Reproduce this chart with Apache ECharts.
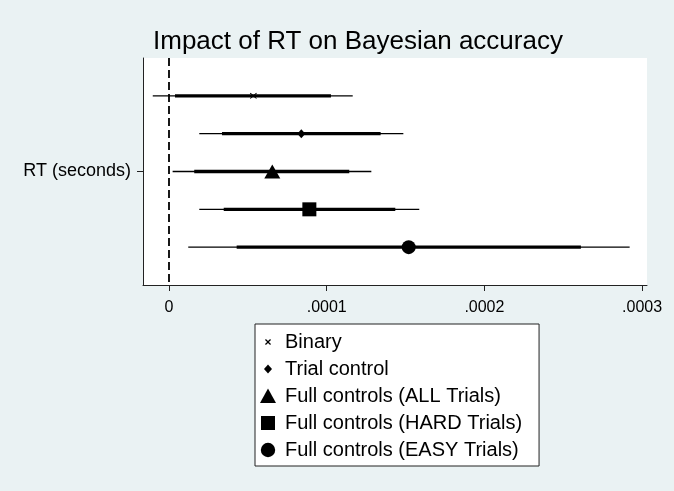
<!DOCTYPE html>
<html>
<head>
<meta charset="utf-8">
<script src="https://cdn.jsdelivr.net/npm/echarts@6/dist/echarts.min.js"></script>
<style>html,body{margin:0;padding:0;background:#EAF2F3}#c{width:674px;height:491px}</style>
</head>
<body>
<div id="c"></div>
<script>
const titleText = 'Impact of RT on Bayesian accuracy';
const yLabel = 'RT (seconds)';
const categories = ['Binary', 'Trial control', 'Full controls (ALL Trials)', 'Full controls (HARD Trials)', 'Full controls (EASY Trials)'];
const estimates = [0.0000535, 0.0000839, 0.0000655, 0.0000890, 0.0001520];
const outerLow  = [-0.0000103, 0.0000192, 0.0000023, 0.0000192, 0.0000122];
const outerHigh = [0.0001165, 0.0001486, 0.0001283, 0.0001587, 0.0002921];
const innerLow  = [0.0000038, 0.0000336, 0.0000160, 0.0000347, 0.0000429];
const innerHigh = [0.0001027, 0.0001342, 0.0001143, 0.0001435, 0.0002612];
const xTicks = [0, 0.0001, 0.0002, 0.0003];
const xTickLabels = ['0', '.0001', '.0002', '.0003'];

const FONT = '"Liberation Sans", Arial, Helvetica, sans-serif';
const markerSymbols = [
  'path://M0,1 L1,0 L5,4 L9,0 L10,1 L6,5 L10,9 L9,10 L5,6 L1,10 L0,9 L4,5 Z',
  'diamond', 'triangle', 'rect', 'circle'
];
const markerSizes = [[7, 6], [8, 9], [16, 14], [14, 14], [14, 14]];
const legendIcons = [
  'path://M0,0 M24,16 M9,5.9 L9.9,5 L12,7.1 L14.1,5 L15,5.9 L12.9,8 L15,10.1 L14.1,11 L12,8.9 L9.9,11 L9,10.1 L11.1,8 Z',
  'path://M0,0 M24,16 M12,3.6 L16,8 L12,12.4 L8,8 Z',
  'path://M0,0 M24,16 M12,0.5 L20,15 L4,15 Z',
  'path://M0,0 M24,16 M5,1 L19,1 L19,15 L5,15 Z',
  'path://M0,0 M24,16 M19.2,8 A7.2,7.2 0 1 1 4.8,8 A7.2,7.2 0 1 1 19.2,8 Z'
];

function ciSeries(lows, highs, width) {
  return {
    type: 'custom',
    silent: true,
    z: 3,
    data: categories.map((c, i) => [lows[i], highs[i], i + 1]),
    encode: { x: [0, 1], y: 2 },
    renderItem: (params, api) => {
      const p1 = api.coord([api.value(0), api.value(2)]);
      const p2 = api.coord([api.value(1), api.value(2)]);
      return { type: 'line', shape: { x1: p1[0], y1: p1[1], x2: p2[0], y2: p2[1] },
               style: { stroke: '#000', lineWidth: width } };
    }
  };
}

const series = [ciSeries(outerLow, outerHigh, 1.4), ciSeries(innerLow, innerHigh, 3.4)];
series[0].markLine = {
  silent: true, symbol: 'none', label: { show: false },
  lineStyle: { color: '#000', type: [8, 4], width: 1.8 },
  data: [{ xAxis: 0 }]
};
series[0].z = 2;
categories.forEach((c, i) => {
  series.push({
    type: 'scatter', name: c, z: 5,
    symbol: markerSymbols[i], symbolSize: markerSizes[i],
    itemStyle: { color: '#000', opacity: 1 },
    data: [[estimates[i], i + 1]]
  });
});

const chart = echarts.init(document.getElementById('c'), null, { renderer: 'canvas' });
chart.setOption({
  backgroundColor: '#EAF2F3',
  animation: false,
  title: {
    text: titleText, left: 153, top: 29, padding: 0,
    textStyle: { fontFamily: FONT, fontSize: 26, fontWeight: 'normal', color: '#000' }
  },
  grid: { left: 143, right: 27, top: 58, bottom: 206, show: true, backgroundColor: '#fff', borderWidth: 0 },
  xAxis: {
    type: 'value', min: -0.00001649, max: 0.00030311,
    splitLine: { show: false },
    axisLine: { onZero: false, lineStyle: { color: '#222', width: 1 } },
    axisTick: { customValues: xTicks, length: 6, lineStyle: { color: '#222' } },
    axisLabel: {
      customValues: xTicks, margin: 15, color: '#000', fontFamily: FONT, fontSize: 16,
      formatter: v => xTickLabels[xTicks.findIndex(t => Math.abs(t - v) < 1e-12)]
    }
  },
  yAxis: {
    type: 'value', min: 0, max: 6, inverse: true,
    splitLine: { show: false },
    axisLine: { show: true, onZero: false, lineStyle: { color: '#222', width: 1 } },
    axisTick: { customValues: [3], length: 6, lineStyle: { color: '#222' } },
    axisLabel: {
      customValues: [3], margin: 12, color: '#000', fontFamily: FONT, fontSize: 18,
      formatter: () => yLabel
    }
  },
  legend: {
    orient: 'vertical', left: 255, top: 324,
    backgroundColor: '#fff', borderColor: '#222', borderWidth: 1,
    padding: [8, 17, 6, 1], itemGap: 7, itemWidth: 24, itemHeight: 16,
    selectedMode: false,
    textStyle: { fontFamily: FONT, fontSize: 20, color: '#000', lineHeight: 20 },
    data: categories.map((c, i) => ({ name: c, icon: legendIcons[i] }))
  },
  series: series
});
</script>
</body>
</html>
